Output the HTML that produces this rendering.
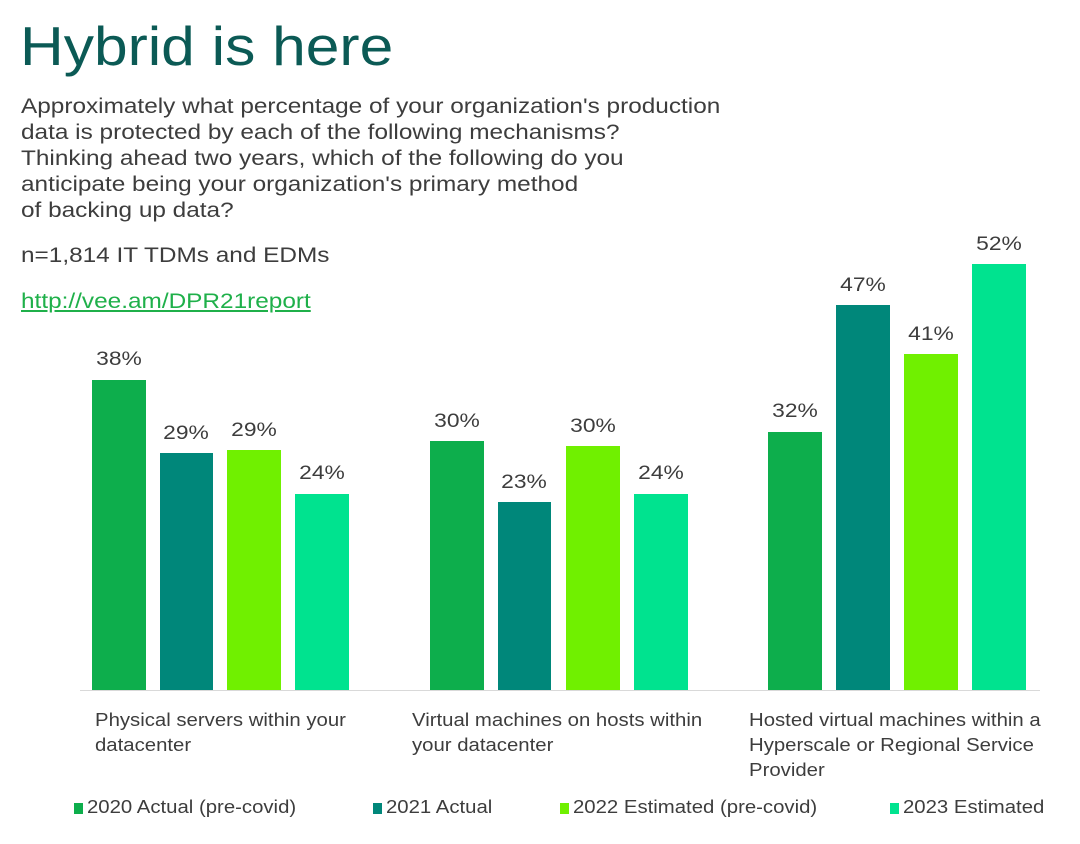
<!DOCTYPE html>
<html><head><style>
body{margin:0;width:1080px;height:844px;background:#fff;position:relative;overflow:hidden;font-family:"Liberation Sans",sans-serif;color:#3d3d3d}
.a{position:absolute;white-space:nowrap;transform-origin:0 0}
.bar{position:absolute;bottom:154px}
.lab{position:absolute;width:60px;text-align:center;font-size:19px;color:#3d3d3d;transform:scaleX(1.2)}
.cat{position:absolute;top:708px;font-size:18px;line-height:25px;transform:scaleX(1.13);transform-origin:0 0;white-space:nowrap}
.lg{position:absolute;top:797px;font-size:18px;white-space:nowrap}
.lg i{display:inline-block;width:9px;height:11px;margin-right:4px;vertical-align:-1px}
.lg span{display:inline-block;transform:scaleX(1.13);transform-origin:0 0}
</style></head><body>
<div class="a" style="left:20px;top:14px;font-size:55px;color:#0b5a55;transform:scaleX(1.1)">Hybrid is here</div>
<div class="a" style="left:21px;top:94px;font-size:21px;line-height:26px;transform:scaleX(1.16)">Approximately what percentage of your organization's production<br>data is protected by each of the following mechanisms?<br>Thinking ahead two years, which of the following do you<br>anticipate being your organization's primary method<br>of backing up data?</div>
<div class="a" style="left:21px;top:244px;font-size:21px;transform:scaleX(1.16)">n=1,814 IT TDMs and EDMs</div>
<div class="a" style="left:21px;top:290px;font-size:21px;color:#1fb04a;text-decoration:underline;transform:scaleX(1.16)">http://vee.am/DPR21report</div>
<div class="a" style="left:80px;top:690px;width:960px;height:1px;background:#d9d9d9"></div>

<div class="bar" style="left:92px;width:54px;top:380px;background:#0dae4c"></div>
<div class="bar" style="left:160px;width:53px;top:453px;background:#00877a"></div>
<div class="bar" style="left:227px;width:54px;top:450px;background:#70f000"></div>
<div class="bar" style="left:295px;width:54px;top:494px;background:#00e38f"></div>
<div class="bar" style="left:430px;width:54px;top:441px;background:#0dae4c"></div>
<div class="bar" style="left:498px;width:53px;top:502px;background:#00877a"></div>
<div class="bar" style="left:566px;width:54px;top:446px;background:#70f000"></div>
<div class="bar" style="left:634px;width:54px;top:494px;background:#00e38f"></div>
<div class="bar" style="left:768px;width:54px;top:432px;background:#0dae4c"></div>
<div class="bar" style="left:836px;width:54px;top:305px;background:#00877a"></div>
<div class="bar" style="left:904px;width:54px;top:354px;background:#70f000"></div>
<div class="bar" style="left:972px;width:54px;top:264px;background:#00e38f"></div>

<div class="lab" style="left:89px;top:349px">38%</div>
<div class="lab" style="left:156px;top:423px">29%</div>
<div class="lab" style="left:224px;top:420px">29%</div>
<div class="lab" style="left:292px;top:463px">24%</div>
<div class="lab" style="left:427px;top:411px">30%</div>
<div class="lab" style="left:494px;top:472px">23%</div>
<div class="lab" style="left:563px;top:416px">30%</div>
<div class="lab" style="left:631px;top:463px">24%</div>
<div class="lab" style="left:765px;top:401px">32%</div>
<div class="lab" style="left:833px;top:275px">47%</div>
<div class="lab" style="left:901px;top:324px">41%</div>
<div class="lab" style="left:969px;top:234px">52%</div>

<div class="cat" style="left:95px">Physical servers within your<br>datacenter</div>
<div class="cat" style="left:412px">Virtual machines on hosts within<br>your datacenter</div>
<div class="cat" style="left:749px">Hosted virtual machines within a<br>Hyperscale or Regional Service<br>Provider</div>

<div class="lg" style="left:74px"><i style="background:#0dae4c"></i><span>2020 Actual (pre-covid)</span></div>
<div class="lg" style="left:373px"><i style="background:#00877a"></i><span>2021 Actual</span></div>
<div class="lg" style="left:560px"><i style="background:#70f000"></i><span>2022 Estimated (pre-covid)</span></div>
<div class="lg" style="left:890px"><i style="background:#00e38f"></i><span>2023 Estimated</span></div>
</body></html>
